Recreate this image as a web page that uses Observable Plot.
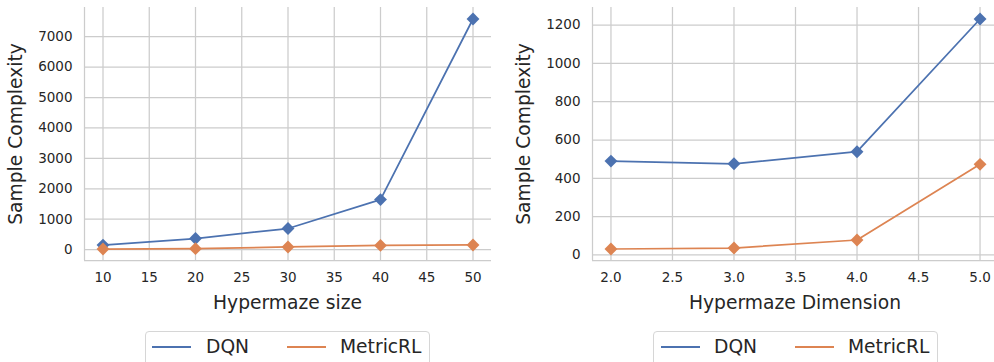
<!DOCTYPE html>
<html>
<head>
<meta charset="utf-8">
<script src="https://cdn.jsdelivr.net/npm/d3@7"></script>
<script src="https://cdn.jsdelivr.net/npm/@observablehq/plot@0.6"></script>
<style>
  html, body { margin: 0; padding: 0; background: #fff; }
  body { width: 994px; height: 362px; overflow: hidden; position: relative; font-family: "DejaVu Sans", sans-serif; color: #262626; }
  .chart { position: absolute; top: 0; width: 500px; height: 300px; }
  .chart svg { max-width: none !important; }
  .xlabel { position: absolute; font-size: 18.7px; line-height: 1em; text-align: center; white-space: nowrap; }
  .ylabel { position: absolute; font-size: 18.7px; line-height: 1em; white-space: nowrap; transform: translate(-50%, -50%) rotate(-90deg); }
  .legend { position: absolute; top: 331px; height: 44px; border: 1px solid #d6d6d6; border-radius: 4px; background: #fff; box-sizing: border-box; }
  .handle { position: absolute; height: 2px; }
  .ltext { position: absolute; font-size: 18.7px; line-height: 1em; white-space: nowrap; }
</style>
</head>
<body>
<script>
// ---- data ----
const seriesNames = ["DQN", "MetricRL"];
const seriesColors = ["#4c72b0", "#dd8452"];

const sizeX = [10, 20, 30, 40, 50];
const sizeDQN = [150, 365, 695, 1645, 7580];
const sizeMetricRL = [22, 33, 88, 141, 155];
const sizeXTicks = [10, 15, 20, 25, 30, 35, 40, 45, 50];
const sizeYTicks = [0, 1000, 2000, 3000, 4000, 5000, 6000, 7000];

const dimX = [2, 3, 4, 5];
const dimDQN = [490, 476, 539, 1232];
const dimMetricRL = [31, 36, 78, 473];
const dimXTicks = [2.0, 2.5, 3.0, 3.5, 4.0, 4.5, 5.0];
const dimYTicks = [0, 200, 400, 600, 800, 1000, 1200];

const xLabels = ["Hypermaze size", "Hypermaze Dimension"];
const yLabel = "Sample Complexity";

function padded(vals) {
  const [lo, hi] = d3.extent(vals);
  const p = (hi - lo) * 0.05;
  return [lo - p, hi + p];
}

function makeChart({xs, ys, xTicks, yTicks, xFmt, left, width, marginLeft, marginRight}) {
  const rows = [];
  ys.forEach((vals, i) => vals.forEach((v, j) => rows.push({x: xs[j], y: v, series: seriesNames[i]})));
  const xDomain = padded(xs);
  const yDomain = padded(ys.flat());
  const grid = {stroke: "#cccccc", strokeOpacity: 1, strokeWidth: 1.25};
  const marks = [
    Plot.gridX(xTicks, grid),
    Plot.gridY(yTicks, grid),
    Plot.ruleX([xDomain[0]], grid),
    Plot.ruleY([yDomain[0]], grid)
  ];
  seriesNames.forEach(s => {
    const d = rows.filter(r => r.series === s);
    marks.push(Plot.line(d, {x: "x", y: "y", stroke: "series", strokeWidth: 1.75}));
    marks.push(Plot.dot(d, {x: "x", y: "y", fill: "series", symbol: "diamond2", r: 5.8}));
  });
  marks.push(Plot.axisX(xTicks, {tickSize: 0, tickPadding: 12, tickFormat: xFmt, label: null, fontSize: 13.5}));
  marks.push(Plot.axisY(yTicks, {tickSize: 0, tickPadding: 12, tickFormat: "d", label: null, fontSize: 13.5}));
  const svg = Plot.plot({
    width, height: 300,
    marginLeft, marginRight, marginTop: 7, marginBottom: 40,
    x: {domain: xDomain},
    y: {domain: yDomain},
    color: {domain: seriesNames, range: seriesColors},
    style: {fontFamily: "DejaVu Sans", color: "#262626", background: "transparent", overflow: "visible", maxWidth: "none"},
    marks
  });
  const wrap = document.createElement("div");
  wrap.className = "chart";
  wrap.style.left = left + "px";
  wrap.appendChild(svg);
  document.body.appendChild(wrap);
}

makeChart({xs: sizeX, ys: [sizeDQN, sizeMetricRL], xTicks: sizeXTicks, yTicks: sizeYTicks, xFmt: "d",
  left: 0, width: 500, marginLeft: 84, marginRight: 9});
makeChart({xs: dimX, ys: [dimDQN, dimMetricRL], xTicks: dimXTicks, yTicks: dimYTicks, xFmt: ".1f",
  left: 500, width: 500, marginLeft: 92, marginRight: 2});

function addText(cls, text, styles) {
  const el = document.createElement("div");
  el.className = cls;
  el.textContent = text;
  Object.assign(el.style, styles);
  document.body.appendChild(el);
  return el;
}

// axis labels
addText("xlabel", xLabels[0], {left: "84px", width: "407px", top: "294px"});
addText("xlabel", xLabels[1], {left: "592px", width: "406px", top: "294px"});
addText("ylabel", yLabel, {left: "15.5px", top: "133.5px"});
addText("ylabel", yLabel, {left: "523.5px", top: "133.5px"});

// legends
function addLegend(boxLeft, boxWidth, items) {
  const box = document.createElement("div");
  box.className = "legend";
  box.style.left = boxLeft + "px";
  box.style.width = boxWidth + "px";
  document.body.appendChild(box);
  items.forEach((it, i) => {
    const h = document.createElement("div");
    h.className = "handle";
    Object.assign(h.style, {left: it.hx + "px", width: "39px", top: "345.5px", background: seriesColors[i]});
    document.body.appendChild(h);
    addText("ltext", seriesNames[i], {left: it.tx + "px", top: "337.7px"});
  });
}
addLegend(145, 285, [{hx: 152, tx: 206}, {hx: 287, tx: 340}]);
addLegend(653, 285, [{hx: 661, tx: 714}, {hx: 795, tx: 848}]);
</script>
</body>
</html>
